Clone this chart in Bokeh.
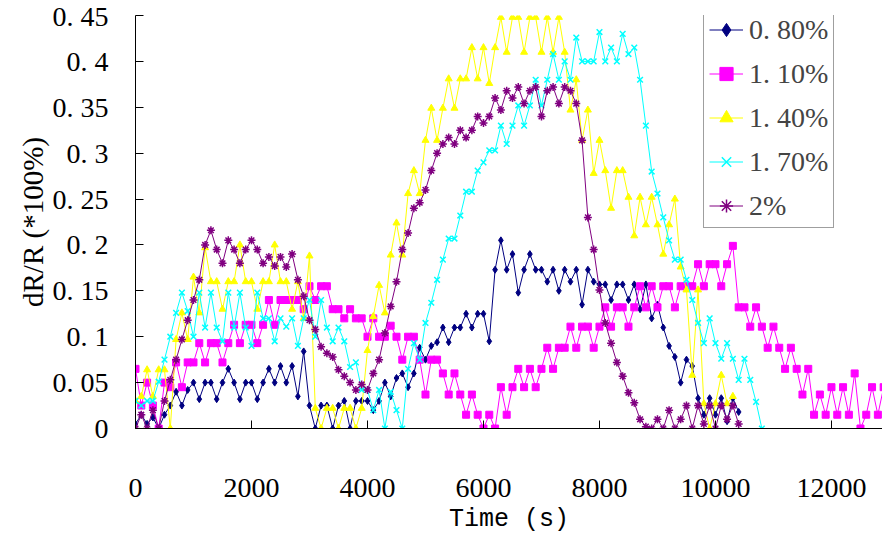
import numpy as np
from bokeh.plotting import figure
from bokeh.models import FixedTicker, Legend, LegendItem, Range1d
from bokeh.embed import file_html
from bokeh.resources import INLINE

DT = 100  # sampling interval of the readings (s)

LABELS = ["0. 80%", "1. 10%", "1. 40%", "1. 70%", "2%"]
COLORS = ["#000080", "#FF00FF", "#FFFF00", "#00FFFF", "#800080"]
MARKERS = ["diamond", "square", "triangle", "x", "asterisk"]

s080 = [0.005, 0.015, 0.005, 0.012, 0.0, 0.015, 0.025, 0.04, 0.025, 0.042,
        0.05, 0.032, 0.05, 0.05, 0.032, 0.05, 0.065, 0.05, 0.032, 0.05,
        0.05, 0.032, 0.05, 0.065, 0.05, 0.068, 0.05, 0.068, 0.035, 0.084,
        0.025, 0.0, 0.025, 0.025, 0.0, 0.025, 0.03, 0.0, 0.03, 0.03,
        0.03, 0.02, 0.03, 0.05, 0.035, 0.055, 0.06, 0.045, 0.06, 0.088,
        0.075, 0.09, 0.094, 0.11, 0.094, 0.11, 0.11, 0.125, 0.11, 0.125,
        0.125, 0.095, 0.173, 0.205, 0.173, 0.19, 0.148, 0.173, 0.19, 0.173,
        0.173, 0.16, 0.173, 0.15, 0.173, 0.16, 0.173, 0.135, 0.173, 0.16,
        0.157, 0.157, 0.14, 0.157, 0.157, 0.14, 0.157, 0.13, 0.157, 0.12,
        0.135, 0.11, 0.09, 0.078, 0.05, 0.075, 0.068, 0.033, 0.015, 0.033,
        0.015, 0.033, 0.008, 0.033, 0.018]

s110 = [0.065, 0.025, 0.05, 0.025, 0.0, 0.05, 0.045, 0.072, 0.045, 0.072,
        0.072, 0.093, 0.072, 0.093, 0.093, 0.072, 0.093, 0.113, 0.093, 0.113,
        0.113, 0.093, 0.113, 0.14, 0.113, 0.14, 0.14, 0.14, 0.14, 0.13,
        0.155, 0.14, 0.155, 0.155, 0.13, 0.13, 0.12, 0.13, 0.12, 0.12,
        0.1, 0.12, 0.1, 0.1, 0.112, 0.1, 0.075, 0.1, 0.1, 0.075,
        0.037, 0.075, 0.075, 0.06, 0.037, 0.06, 0.037, 0.015, 0.037, 0.015,
        0.0, 0.015, 0.0, 0.045, 0.015, 0.045, 0.065, 0.045, 0.065, 0.045,
        0.065, 0.088, 0.065, 0.088, 0.088, 0.111, 0.088, 0.111, 0.111, 0.088,
        0.111, 0.132, 0.111, 0.132, 0.132, 0.111, 0.132, 0.155, 0.132, 0.155,
        0.132, 0.155, 0.155, 0.132, 0.155, 0.155, 0.155, 0.179, 0.155, 0.179,
        0.179, 0.155, 0.179, 0.199, 0.132, 0.132, 0.111, 0.132, 0.111, 0.088,
        0.111, 0.088, 0.065, 0.088, 0.065, 0.037, 0.065, 0.015, 0.037, 0.015,
        0.045, 0.015, 0.045, 0.015, 0.06, 0.0, 0.015, 0.045, 0.015, 0.045]

s140 = [0.03, 0.035, 0.064, 0.035, 0.064, 0.064, 0.0, 0.097, 0.126, 0.097,
        0.165, 0.126, 0.197, 0.16, 0.16, 0.13, 0.16, 0.16, 0.2, 0.16,
        0.16, 0.13, 0.16, 0.16, 0.2, 0.16, 0.16, 0.13, 0.16, 0.12,
        0.188, 0.022, 0.0, 0.022, 0.022, 0.0, 0.022, 0.022, 0.0, 0.022,
        0.085, 0.122, 0.156, 0.126, 0.189, 0.224, 0.189, 0.256, 0.281, 0.256,
        0.314, 0.349, 0.314, 0.349, 0.381, 0.349, 0.381, 0.381, 0.415, 0.381,
        0.415, 0.376, 0.415, 0.448, 0.41, 0.448, 0.448, 0.41, 0.448, 0.448,
        0.41, 0.448, 0.41, 0.448, 0.41, 0.347, 0.38, 0.314, 0.347, 0.278,
        0.314, 0.281, 0.24, 0.281, 0.281, 0.252, 0.21, 0.252, 0.222, 0.252,
        0.222, 0.19, 0.222, 0.25, 0.176, 0.151, 0.058, 0.151, 0.027, 0.0,
        0.027, 0.058, 0.027, 0.035]

s170 = [0.03, 0.025, 0.03, 0.03, 0.051, 0.075, 0.1, 0.126, 0.148, 0.128,
        0.1, 0.148, 0.11, 0.148, 0.11, 0.095, 0.148, 0.11, 0.148, 0.11,
        0.09, 0.148, 0.12, 0.12, 0.095, 0.12, 0.111, 0.12, 0.09, 0.12,
        0.14, 0.1, 0.14, 0.11, 0.095, 0.11, 0.095, 0.067, 0.072, 0.042,
        0.042, 0.02, 0.042, 0.0, 0.04, 0.02, 0.0, 0.065, 0.093, 0.075,
        0.115, 0.137, 0.162, 0.184, 0.207, 0.207, 0.232, 0.258, 0.258, 0.281,
        0.29, 0.303, 0.303, 0.33, 0.31, 0.33, 0.352, 0.33, 0.352, 0.38,
        0.352, 0.38, 0.408, 0.38, 0.4, 0.38, 0.426, 0.4, 0.4, 0.4,
        0.432, 0.4, 0.415, 0.4, 0.43, 0.408, 0.415, 0.38, 0.33, 0.28,
        0.256, 0.23, 0.205, 0.184, 0.184, 0.162, 0.14, 0.115, 0.093, 0.12,
        0.093, 0.076, 0.093, 0.076, 0.053, 0.076, 0.053, 0.029, 0.0]

s200 = [0.0, 0.015, 0.0, 0.02, 0.0, 0.03, 0.053, 0.075, 0.097, 0.118,
        0.14, 0.162, 0.2, 0.216, 0.195, 0.18, 0.205, 0.195, 0.18, 0.195,
        0.205, 0.195, 0.18, 0.187, 0.177, 0.187, 0.176, 0.19, 0.162, 0.144,
        0.118, 0.108, 0.089, 0.082, 0.078, 0.064, 0.057, 0.05, 0.042, 0.048,
        0.042, 0.06, 0.075, 0.104, 0.133, 0.16, 0.195, 0.213, 0.24, 0.246,
        0.26, 0.281, 0.3, 0.31, 0.317, 0.31, 0.325, 0.317, 0.325, 0.34,
        0.333, 0.34, 0.36, 0.347, 0.368, 0.36, 0.372, 0.354, 0.368, 0.372,
        0.34, 0.368, 0.372, 0.354, 0.372, 0.368, 0.354, 0.314, 0.23, 0.195,
        0.151, 0.115, 0.093, 0.072, 0.057, 0.039, 0.028, 0.01, 0.002, 0.0,
        0.01, 0.0, 0.02, 0.0, 0.01, 0.025, 0.0, 0.025, 0.005, 0.025,
        0.0, 0.025, 0.01, 0.025, 0.005]

SERIES = [s080, s110, s140, s170, s200]

XTICKS = [0, 2000, 4000, 6000, 8000, 10000, 12000]
YTICKS = [0, 0.05, 0.1, 0.15, 0.2, 0.25, 0.3, 0.35, 0.4, 0.45]
YTICK_LABELS = ["0", "0. 05", "0. 1", "0. 15", "0. 2", "0. 25", "0. 3", "0. 35", "0. 4", "0. 45"]

p = figure(width=882, height=537, output_backend="svg", toolbar_location=None,
           x_range=Range1d(0, 12880), y_range=Range1d(0, 0.45),
           min_border_left=135, min_border_right=0, min_border_top=15, min_border_bottom=109)
p.outline_line_color = None
p.grid.visible = False
p.background_fill_color = "white"

items = []
for vals, lab, col, mk in zip(SERIES, LABELS, COLORS, MARKERS):
    t = np.arange(len(vals)) * DT
    r1 = p.line(t, vals, line_color=col, line_width=1)
    if mk in ("x", "asterisk"):
        r2 = p.scatter(t, vals, marker=mk, size=8, line_color=col, line_width=1.5)
    else:
        r2 = p.scatter(t, vals, marker=mk, size=7, fill_color=col, line_color=col)
    items.append(LegendItem(label=lab, renderers=[r1, r2]))

for ax in (p.xaxis[0], p.yaxis[0]):
    ax.axis_line_color = "black"
    ax.axis_line_width = 1
    ax.major_tick_in = 8
    ax.major_tick_out = 0
    ax.major_tick_line_color = "black"
    ax.minor_tick_line_color = None
    ax.major_label_text_font = "Liberation Serif"
    ax.major_label_text_font_size = "28px"
    ax.major_label_text_color = "black"
    ax.axis_label_text_font_style = "normal"
    ax.axis_label_text_color = "black"

p.xaxis.ticker = FixedTicker(ticks=XTICKS)
p.yaxis.ticker = FixedTicker(ticks=YTICKS)
p.yaxis.major_label_overrides = {k: v for k, v in zip(YTICKS, YTICK_LABELS)}
p.xaxis.major_label_standoff = 50
p.yaxis.major_label_standoff = 27

p.xaxis.axis_label = "Time (s)"
p.xaxis.axis_label_text_font = "Liberation Mono"
p.xaxis.axis_label_text_font_size = "25px"
p.xaxis.axis_label_standoff = 5

p.yaxis.axis_label = "dR/R (*100%)"
p.yaxis.axis_label_text_font = "Liberation Serif"
p.yaxis.axis_label_text_font_size = "29px"
p.yaxis.axis_label_standoff = 1

legend = Legend(items=items, location=(568, 200))
legend.border_line_color = "#404040"
legend.border_line_width = 1
legend.background_fill_color = "white"
legend.background_fill_alpha = 1
legend.label_text_font = "Liberation Serif"
legend.label_text_font_size = "28px"
legend.glyph_width = 34
legend.glyph_height = 33
legend.label_height = 33
legend.spacing = 11
legend.padding = 5
legend.margin = 0
legend.label_standoff = 6
p.add_layout(legend)

open("out.html", "w").write(file_html(p, INLINE))
